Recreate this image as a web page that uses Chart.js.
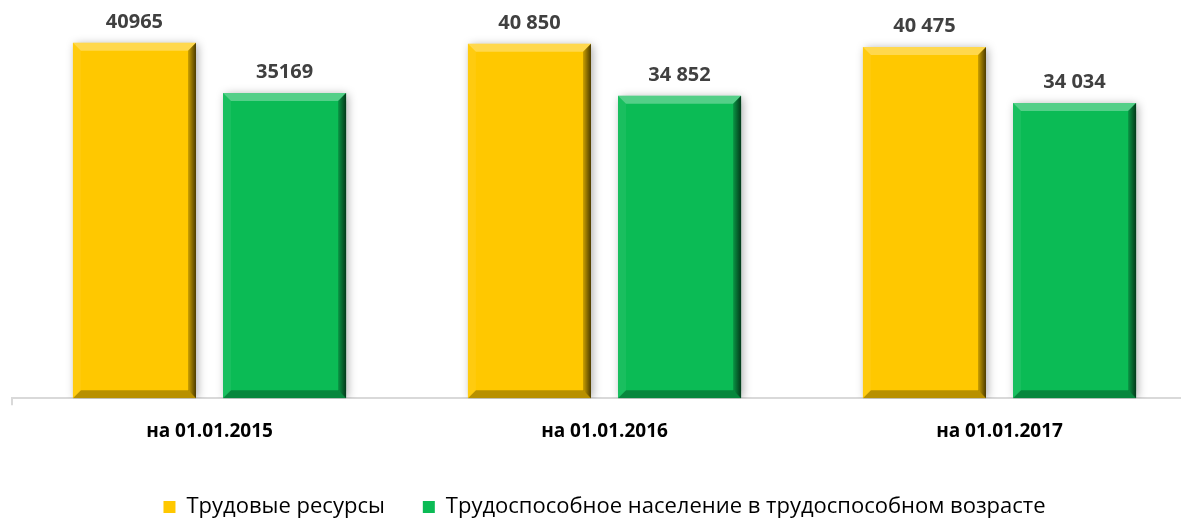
<!DOCTYPE html>
<html>
<head>
<meta charset="utf-8">
<script src="https://cdn.jsdelivr.net/npm/chart.js@4"></script>
<style>
  html, body { margin: 0; padding: 0; background: #fff; overflow: hidden; }
  #wrap { position: relative; width: 1197px; height: 528px; }
</style>
</head>
<body>
<div id="wrap"><canvas id="chart"></canvas></div>
<script>
// данные
const periods = ["на 01.01.2015", "на 01.01.2016", "на 01.01.2017"];
const resources = [40965, 40850, 40475];
const ableBodied = [35169, 34852, 34034];
const resourcesText = ["40965", "40 850", "40 475"];
const ableBodiedText = ["35169", "34 852", "34 034"];
const seriesNames = ["Трудовые ресурсы", "Трудоспособное население в трудоспособном возрасте"];

const FONT = "'Open Sans', 'Liberation Sans', sans-serif";

// тень + фаска как в Excel
const bevelPlugin = {
  id: "bevel",
  beforeDatasetsDraw(chart) {
    const ctx = chart.ctx;
    ctx.save();
    ctx.shadowColor = "rgba(0,0,0,0.35)";
    ctx.shadowBlur = 9;
    ctx.shadowOffsetX = 2;
    ctx.shadowOffsetY = 1;
  },
  afterDatasetsDraw(chart) {
    const ctx = chart.ctx;
    ctx.restore();
    chart.data.datasets.forEach((ds, di) => {
      chart.getDatasetMeta(di).data.forEach(bar => {
        const w = bar.width, l = bar.x - w / 2, r = bar.x + w / 2, t = bar.y, b = bar.base;
        const e = 8;
        ctx.save();
        // верх светлее
        ctx.fillStyle = "rgba(255,255,255,0.3)";
        ctx.beginPath();
        ctx.moveTo(l, t); ctx.lineTo(r, t); ctx.lineTo(r - e, t + e); ctx.lineTo(l + e, t + e); ctx.closePath();
        ctx.fill();
        // лево чуть светлее
        ctx.fillStyle = "rgba(255,255,255,0.06)";
        ctx.beginPath();
        ctx.moveTo(l, t); ctx.lineTo(l + e, t + e); ctx.lineTo(l + e, b - e); ctx.lineTo(l, b); ctx.closePath();
        ctx.fill();
        // право темнее
        const gr = ctx.createLinearGradient(r - e, 0, r, 0);
        gr.addColorStop(0, "rgba(0,0,0,0.2)");
        gr.addColorStop(1, "rgba(0,0,0,0.7)");
        ctx.fillStyle = gr;
        ctx.beginPath();
        ctx.moveTo(r, t); ctx.lineTo(r, b); ctx.lineTo(r - e, b - e); ctx.lineTo(r - e, t + e); ctx.closePath();
        ctx.fill();
        // низ темнее
        ctx.fillStyle = "rgba(0,0,0,0.28)";
        ctx.beginPath();
        ctx.moveTo(l, b); ctx.lineTo(r, b); ctx.lineTo(r - e, b - e); ctx.lineTo(l + e, b - e); ctx.closePath();
        ctx.fill();
        ctx.restore();
      });
    });
    // подписи значений
    const texts = [resourcesText, ableBodiedText];
    ctx.save();
    ctx.font = "bold 20px " + FONT;
    ctx.fillStyle = "#404040";
    ctx.textAlign = "center";
    ctx.textBaseline = "middle";
    chart.data.datasets.forEach((ds, di) => {
      chart.getDatasetMeta(di).data.forEach((bar, i) => {
        ctx.fillText(texts[di][i], bar.x, bar.y - 21);
      });
    });
    ctx.restore();
  }
};

new Chart(document.getElementById("chart"), {
  type: "bar",
  data: {
    labels: periods,
    datasets: [
      { label: seriesNames[0], data: resources, backgroundColor: "#FFC800" },
      { label: seriesNames[1], data: ableBodied, backgroundColor: "#0BBB55" }
    ]
  },
  options: {
    responsive: true,
    maintainAspectRatio: false,
    animation: false,
    devicePixelRatio: 1,
    layout: { padding: { left: 12, top: 0, right: 0, bottom: 0 } },
    datasets: { bar: { categoryPercentage: 0.76, barPercentage: 0.82 } },
    scales: {
      x: {
        grid: {
          drawOnChartArea: false,
          offset: true,
          tickLength: 7,
          lineWidth: 2,
          color: c => c.index === 0 ? "#d9d9d9" : "rgba(0,0,0,0)"
        },
        border: { color: "#d9d9d9", width: 2 },
        ticks: { color: "#000", padding: 15, font: { family: FONT, size: 19, weight: "bold" } }
      },
      y: { display: false, min: 0, max: 45900 }
    },
    plugins: {
      tooltip: { enabled: false },
      legend: {
        position: "bottom",
        labels: {
          boxWidth: 12, boxHeight: 12, padding: 38, color: "#000",
          font: { family: FONT, size: 22 }
        }
      }
    }
  },
  plugins: [bevelPlugin]
});
</script>
</body>
</html>
